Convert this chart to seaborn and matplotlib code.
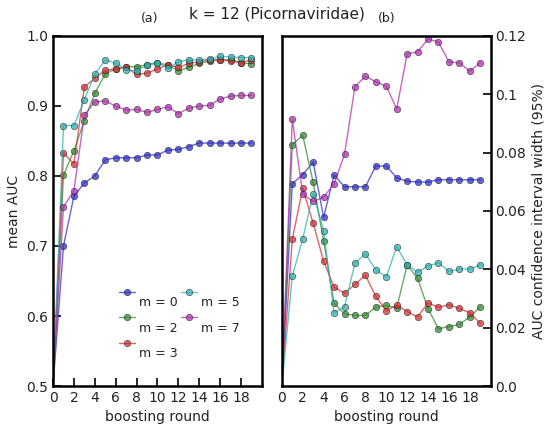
import numpy as np
import pandas as pd
import seaborn as sns
import matplotlib
matplotlib.use("Agg")
import matplotlib.pyplot as plt

rounds = list(range(20))
labels = ["m = 0", "m = 2", "m = 3", "m = 5", "m = 7"]
colors = ["#2a2ad0", "#2e8a2e", "#d82a2a", "#2ab0b0", "#b02ab0"]

auc_m0 = [0.5, 0.700, 0.771, 0.790, 0.800, 0.823, 0.826, 0.826, 0.826, 0.830, 0.830,
          0.837, 0.838, 0.842, 0.847, 0.847, 0.847, 0.847, 0.847, 0.847]
auc_m2 = [0.5, 0.801, 0.836, 0.879, 0.918, 0.946, 0.953, 0.956, 0.956, 0.959, 0.961,
          0.959, 0.950, 0.955, 0.961, 0.964, 0.966, 0.966, 0.962, 0.960]
auc_m3 = [0.5, 0.833, 0.817, 0.927, 0.940, 0.951, 0.953, 0.955, 0.945, 0.947, 0.953,
          0.959, 0.955, 0.961, 0.963, 0.966, 0.966, 0.964, 0.962, 0.966]
auc_m5 = [0.5, 0.872, 0.872, 0.909, 0.945, 0.966, 0.961, 0.952, 0.950, 0.959, 0.962,
          0.954, 0.963, 0.966, 0.966, 0.967, 0.971, 0.970, 0.969, 0.969]
auc_m7 = [0.5, 0.756, 0.779, 0.887, 0.906, 0.907, 0.900, 0.894, 0.895, 0.891, 0.895,
          0.899, 0.889, 0.897, 0.900, 0.901, 0.910, 0.914, 0.915, 0.915]

ci_m0 = [0.0, 0.0693, 0.0725, 0.0767, 0.0578, 0.0723, 0.0683, 0.0683, 0.0683, 0.0754, 0.0754,
         0.0714, 0.0702, 0.0699, 0.0699, 0.0707, 0.0707, 0.0707, 0.0707, 0.0707]
ci_m2 = [0.0, 0.0827, 0.0860, 0.0698, 0.0497, 0.0284, 0.0248, 0.0242, 0.0242, 0.0271, 0.0276,
         0.0268, 0.0415, 0.0369, 0.0265, 0.0196, 0.0204, 0.0211, 0.0237, 0.0271]
ci_m3 = [0.0, 0.0503, 0.0678, 0.0558, 0.0428, 0.0339, 0.0318, 0.0348, 0.0380, 0.0307, 0.0257,
         0.0278, 0.0255, 0.0237, 0.0285, 0.0270, 0.0279, 0.0266, 0.0251, 0.0215]
ci_m5 = [0.0, 0.0376, 0.0505, 0.0659, 0.0533, 0.0251, 0.0271, 0.0421, 0.0453, 0.0398, 0.0374,
         0.0478, 0.0415, 0.0390, 0.0412, 0.0422, 0.0393, 0.0401, 0.0401, 0.0415]
ci_m7 = [0.0, 0.0915, 0.0657, 0.0633, 0.0647, 0.0693, 0.0794, 0.1026, 0.1062, 0.1043, 0.1027,
         0.0950, 0.1139, 0.1145, 0.1190, 0.1179, 0.1111, 0.1108, 0.1079, 0.1108]

auc_series = [auc_m0, auc_m2, auc_m3, auc_m5, auc_m7]
ci_series = [ci_m0, ci_m2, ci_m3, ci_m5, ci_m7]

left_yticks = [0.5, 0.6, 0.7, 0.8, 0.9, 1.0]
right_yticks = [0.0, 0.02, 0.04, 0.06, 0.08, 0.10, 0.12]
right_yticklabels = ["0.0", "0.02", "0.04", "0.06", "0.08", "0.1", "0.12"]
xticks = list(range(0, 20, 2))

sns.set_style("white")
plt.rcParams['font.family'] = ['DejaVu Sans']

fig = plt.figure(figsize=(5.57, 4.29), dpi=100)
axa = fig.add_axes([0.0952, 0.1002, 0.375, 0.816])
axb = fig.add_axes([0.506, 0.1002, 0.375, 0.816])

rows = []
for lab, a, c in zip(labels, auc_series, ci_series):
    for r, av, cv in zip(rounds, a, c):
        rows.append({"round": r, "m": lab, "auc": av, "ci": cv})
df = pd.DataFrame(rows)

for lab, col in zip(labels, colors):
    sub = df[df["m"] == lab]
    for ax, ycol in [(axa, "auc"), (axb, "ci")]:
        sns.lineplot(data=sub, x="round", y=ycol, ax=ax, color=col, alpha=0.72,
                     lw=1.0, marker="o", markersize=4.6, markeredgecolor="#222222",
                     markeredgewidth=0.5, label=lab if ax is axa else None,
                     legend=False, markevery=list(range(1, 20)))

for ax in (axa, axb):
    ax.set_xlim(0, 20)
    ax.set_xticks(xticks)
    ax.set_xlabel("boosting round", fontsize=10, color="#222222")
    for s in ax.spines.values():
        s.set_linewidth(1.8)
        s.set_color("black")
    ax.tick_params(direction="in", length=6, width=1.2, labelsize=10,
                   color="black", labelcolor="#222222")

axa.set_ylim(0.5, 1.0)
axa.set_yticks(left_yticks)
axa.set_ylabel("mean AUC", fontsize=10, color="#222222")
axa.tick_params(axis="x", bottom=True, top=False)
axa.tick_params(axis="y", left=True, right=False)

axb.set_ylim(0.0, 0.12)
axb.set_yticks(right_yticks)
axb.set_yticklabels(right_yticklabels)
axb.yaxis.tick_right()
axb.yaxis.set_label_position("right")
axb.tick_params(axis="y", left=False, right=True, labelleft=False, labelright=True)
axb.set_ylabel("AUC confidence interval width (95%)", fontsize=10, color="#222222")

fig.text(0.268, 0.958, "(a)", ha="center", va="center", fontsize=9, color="#222222")
fig.text(0.695, 0.958, "(b)", ha="center", va="center", fontsize=9, color="#222222")
fig.text(0.497, 0.967, "k = 12 (Picornaviridae)", ha="center", va="center",
         fontsize=11, color="#222222")

leg = axa.legend(loc="lower left", bbox_to_anchor=(0.26, 0.07), ncol=2, frameon=False,
                 fontsize=9, handlelength=1.3, numpoints=1, columnspacing=0.3,
                 handletextpad=0.3, labelspacing=1.0)
for t in leg.get_texts():
    t.set_va("top")
    t.set_color("#222222")

fig.savefig("out.png", dpi=100)
